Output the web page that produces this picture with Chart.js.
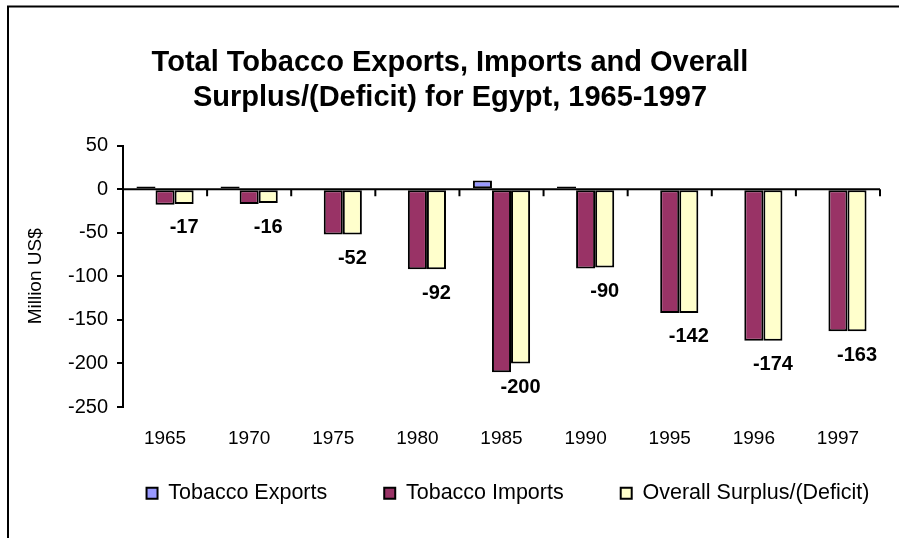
<!DOCTYPE html>
<html>
<head>
<meta charset="utf-8">
<script src="https://cdn.jsdelivr.net/npm/chart.js@4.4.1/dist/chart.umd.min.js"></script>
<style>
  body { margin: 0; background: #fff; }
</style>
</head>
<body>
<canvas id="tobacco__graph" width="899" height="538"></canvas>
<script>
const years = ['1965', '1970', '1975', '1980', '1985', '1990', '1995', '1996', '1997'];
const exportsData = [3, 3, 0, 0, 10, 3, 0, 0, 0];
const importsData = [-18, -17, -52, -92, -210, -91, -142, -174, -163];
const surplusData = [-17, -16, -52, -92, -200, -90, -142, -174, -163];
const yMin = -250, yMax = 50, yStep = 50;

Chart.defaults.font.family = '"Liberation Sans", Arial, sans-serif';
Chart.defaults.color = '#000';

// white page + the clipped chart frame (left and top edges only)
const frame = {
    id: 'frame',
    beforeDraw(chart) {
        const ctx = chart.ctx;
        ctx.save();
        ctx.fillStyle = '#fff';
        ctx.fillRect(0, 0, chart.width, chart.height);
        ctx.strokeStyle = '#000';
        ctx.lineWidth = 2;
        ctx.beginPath();
        ctx.moveTo(8, chart.height + 2);
        ctx.lineTo(8, 6.5);
        ctx.lineTo(chart.width + 2, 6.5);
        ctx.stroke();
        ctx.restore();
    }
};

// category axis crossing at 0, with tick marks between categories
const zeroAxis = {
    id: 'zeroAxis',
    afterDatasetsDraw(chart) {
        const {ctx, chartArea, scales: {x, y}} = chart;
        const y0 = y.getPixelForValue(0);
        const half = x.width / years.length / 2;
        ctx.save();
        ctx.strokeStyle = '#000';
        ctx.lineWidth = 2;
        ctx.beginPath();
        ctx.moveTo(chartArea.left, y0);
        ctx.lineTo(chartArea.right, y0);
        years.forEach((yr, i) => {
            const px = x.getPixelForValue(i) + half;
            ctx.moveTo(px, y0);
            ctx.lineTo(px, y0 + 7);
        });
        ctx.stroke();
        ctx.restore();
    }
};

// surplus values printed under the bars
const barLabels = {
    id: 'barLabels',
    afterDatasetsDraw(chart) {
        const ctx = chart.ctx;
        const meta = chart.getDatasetMeta(2);
        ctx.save();
        ctx.font = 'bold 20px "Liberation Sans", Arial, sans-serif';
        ctx.fillStyle = '#000';
        ctx.textAlign = 'center';
        ctx.textBaseline = 'middle';
        meta.data.forEach((bar, i) => {
            ctx.fillText(String(surplusData[i]), bar.x, bar.y + 24);
        });
        ctx.restore();
    }
};

// move the legend a bit right and up, like in the original
const legendShift = {
    id: 'legendShift',
    afterLayout(chart) {
        chart.legend.left += 58;
        chart.legend.right += 58;
        chart.legend.top -= 24;
        chart.legend.bottom -= 24;
    }
};

const graph = document.querySelector('#tobacco__graph');

new Chart(graph, {
    type: 'bar',
    data: {
        labels: years,
        datasets: [
            {
                label: 'Tobacco Exports',
                data: exportsData,
                backgroundColor: '#9999FF',
                borderColor: '#000',
                borderWidth: 2
            },
            {
                label: 'Tobacco Imports',
                data: importsData,
                backgroundColor: '#993366',
                borderColor: '#000',
                borderWidth: 2
            },
            {
                label: 'Overall Surplus/(Deficit)',
                data: surplusData,
                backgroundColor: '#FFFFCC',
                borderColor: '#000',
                borderWidth: 2
            }
        ]
    },
    options: {
        responsive: false,
        animation: false,
        layout: {
            padding: { left: 20, right: 19, top: 0, bottom: 0 }
        },
        datasets: {
            bar: {
                barPercentage: 1,
                categoryPercentage: 0.68,
                borderSkipped: false
            }
        },
        plugins: {
            title: {
                display: true,
                text: ['Total Tobacco Exports, Imports and Overall', 'Surplus/(Deficit) for Egypt, 1965-1997'],
                color: '#000',
                font: { size: 29, weight: 'bold', lineHeight: 1.2 },
                padding: { top: 46, bottom: 30 }
            },
            legend: {
                display: true,
                position: 'bottom',
                labels: {
                    boxWidth: 11,
                    boxHeight: 11,
                    padding: 57,
                    color: '#000',
                    font: { size: 21.5 }
                }
            },
            tooltip: { enabled: false }
        },
        scales: {
            x: {
                grid: { display: false },
                border: { display: false },
                ticks: { padding: 12, font: { size: 19 }, color: '#000' },
                afterFit(scale) { scale.height = 42.5; }
            },
            y: {
                min: yMin,
                max: yMax,
                ticks: { stepSize: yStep, padding: 9, font: { size: 20 }, color: '#000' },
                grid: {
                    drawOnChartArea: false,
                    drawTicks: true,
                    tickLength: 6,
                    color: '#000',
                    lineWidth: 2
                },
                border: { display: true, color: '#000', width: 2 },
                title: {
                    display: true,
                    text: 'Million US$',
                    color: '#000',
                    font: { size: 19 },
                    padding: 4
                },
                afterFit(scale) { scale.width = 103; }
            }
        }
    },
    plugins: [frame, zeroAxis, barLabels, legendShift]
});
</script>
</body>
</html>
